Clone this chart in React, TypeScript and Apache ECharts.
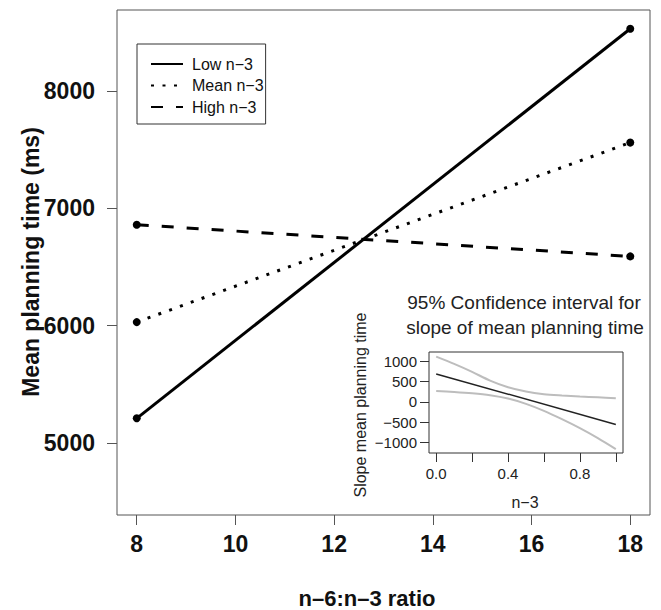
import React, { useEffect, useRef } from "react";
import * as echarts from "echarts";

// ---- Main chart data ----
const ratioX = [8, 18];
const lowN3 = [5210, 8530];
const meanN3 = [6030, 7560];
const highN3 = [6860, 6590];
const xTicks = [8, 10, 12, 14, 16, 18];
const yTicks = [5000, 6000, 7000, 8000];
const seriesNames = ["Low n\u22123", "Mean n\u22123", "High n\u22123"];

// ---- Inset data ----
const insetX = [0, 0.1, 0.2, 0.3, 0.4, 0.5, 0.6, 0.7, 0.8, 0.9, 1.0];
const insetUpper = [1116, 936, 739, 525, 361, 254, 189, 156, 131, 115, 90];
const insetLower = [271, 246, 213, 164, 82, -49, -222, -427, -649, -895, -1166];
const insetCenterX = [0, 1];
const insetCenter = [690, -555];
const insetXTicks = [0, 0.2, 0.4, 0.6, 0.8, 1.0];
const insetXLabels = [0, 0.4, 0.8];
const insetYTicks = [-1000, -500, 0, 500, 1000];

const FONT = "'Liberation Sans', Arial, sans-serif";

function pairs(xs: number[], ys: number[]) {
  return xs.map((x, i) => [x, ys[i]]);
}

export default function App() {
  const ref = useRef<HTMLDivElement>(null);
  useEffect(() => {
    if (!ref.current) return;
    const chart = echarts.init(ref.current, null, { renderer: "svg" });
    const minus = (v: number) => (v < 0 ? "\u2212" + Math.abs(v) : String(v));
    const option: any = {
      animation: false,
      backgroundColor: "#fff",
      textStyle: { fontFamily: FONT },
      grid: [
        { left: 117, top: 10, width: 533, height: 505, show: true, borderColor: "#555", borderWidth: 1, backgroundColor: "transparent" },
        { left: 429, top: 352, width: 194, height: 101, show: true, borderColor: "#333", borderWidth: 1, backgroundColor: "transparent" },
      ],
      xAxis: [
        {
          type: "value", gridIndex: 0, min: 7.6, max: 18.4,
          splitLine: { show: false }, axisLine: { show: false, onZero: false },
          axisTick: { show: true, length: 10, customValues: xTicks, lineStyle: { color: "#555" } },
          axisLabel: { customValues: xTicks, fontSize: 23, fontWeight: "bold", color: "#111", margin: 17, fontFamily: FONT, formatter: (v: number) => String(v) },
        },
        {
          type: "value", gridIndex: 1, min: -0.04, max: 1.04,
          splitLine: { show: false }, axisLine: { show: false, onZero: false },
          axisTick: { show: true, length: 9, customValues: insetXTicks, lineStyle: { color: "#333" } },
          axisLabel: { customValues: insetXLabels, fontSize: 15, color: "#222", margin: 13, fontFamily: FONT, formatter: (v: number) => v.toFixed(1) },
        },
      ],
      yAxis: [
        {
          type: "value", gridIndex: 0, min: 4386, max: 8690,
          splitLine: { show: false }, axisLine: { show: false, onZero: false },
          axisTick: { show: true, length: 10, customValues: yTicks, lineStyle: { color: "#555" } },
          axisLabel: { customValues: yTicks, fontSize: 23, fontWeight: "bold", color: "#111", margin: 22, fontFamily: FONT, formatter: (v: number) => String(v) },
        },
        {
          type: "value", gridIndex: 1, min: -1260, max: 1230,
          splitLine: { show: false }, axisLine: { show: false, onZero: false },
          axisTick: { show: true, length: 9, customValues: insetYTicks, lineStyle: { color: "#333" } },
          axisLabel: { customValues: insetYTicks, fontSize: 15, color: "#222", margin: 12, fontFamily: FONT, formatter: minus },
        },
      ],
      legend: {
        orient: "vertical",
        left: 137, top: 44,
        padding: [12, 2, 9, 13],
        itemWidth: 32, itemHeight: 14, itemGap: 5.5,
        borderColor: "#333", borderWidth: 1,
        data: seriesNames,
        itemStyle: { opacity: 0 },
        textStyle: { fontSize: 16, color: "#111", fontFamily: FONT, padding: [0, 0, 0, 4] },
      },
      series: [
        {
          name: seriesNames[0], type: "line", xAxisIndex: 0, yAxisIndex: 0,
          data: pairs(ratioX, lowN3), symbol: "circle", symbolSize: 8,
          itemStyle: { color: "#000" }, lineStyle: { color: "#000", width: 3, type: "solid" },
        },
        {
          name: seriesNames[1], type: "line", xAxisIndex: 0, yAxisIndex: 0,
          data: pairs(ratioX, meanN3), symbol: "circle", symbolSize: 8,
          itemStyle: { color: "#000" }, lineStyle: { color: "#000", width: 3, type: [3, 8.5] },
        },
        {
          name: seriesNames[2], type: "line", xAxisIndex: 0, yAxisIndex: 0,
          data: pairs(ratioX, highN3), symbol: "circle", symbolSize: 8,
          itemStyle: { color: "#000" }, lineStyle: { color: "#000", width: 3, type: [12, 13] },
        },
        {
          name: "upper", type: "line", xAxisIndex: 1, yAxisIndex: 1,
          data: pairs(insetX, insetUpper), smooth: 0.3, symbol: "none",
          lineStyle: { color: "#bdbdbd", width: 2 },
        },
        {
          name: "lower", type: "line", xAxisIndex: 1, yAxisIndex: 1,
          data: pairs(insetX, insetLower), smooth: 0.3, symbol: "none",
          lineStyle: { color: "#bdbdbd", width: 2 },
        },
        {
          name: "slope", type: "line", xAxisIndex: 1, yAxisIndex: 1,
          data: pairs(insetCenterX, insetCenter), symbol: "none",
          lineStyle: { color: "#222", width: 1.5 },
        },
      ],
      graphic: [
        {
          type: "text", x: 31, y: 262, rotation: Math.PI / 2,
          style: { text: "Mean planning time (ms)", font: `bold 23px ${FONT}`, fill: "#111", textAlign: "center", textVerticalAlign: "middle" },
        },
        {
          type: "text", x: 367, y: 598,
          style: { text: "n\u20136:n\u20133 ratio", font: `bold 22px ${FONT}`, fill: "#111", textAlign: "center", textVerticalAlign: "middle" },
        },
        {
          type: "text", x: 524, y: 302,
          style: { text: "95% Confidence interval for", font: `19px ${FONT}`, fill: "#222", textAlign: "center", textVerticalAlign: "middle" },
        },
        {
          type: "text", x: 525, y: 327,
          style: { text: "slope of mean planning time", font: `19px ${FONT}`, fill: "#222", textAlign: "center", textVerticalAlign: "middle" },
        },
        {
          type: "text", x: 360, y: 405, rotation: Math.PI / 2,
          style: { text: "Slope mean planning time", font: `16px ${FONT}`, fill: "#222", textAlign: "center", textVerticalAlign: "middle" },
        },
        {
          type: "text", x: 525, y: 502,
          style: { text: "n\u22123", font: `16px ${FONT}`, fill: "#222", textAlign: "center", textVerticalAlign: "middle" },
        },
      ],
    };
    chart.setOption(option);
    return () => chart.dispose();
  }, []);
  return <div ref={ref} style={{ width: 661, height: 610, position: "absolute", left: 0, top: 0 }} />;
}
